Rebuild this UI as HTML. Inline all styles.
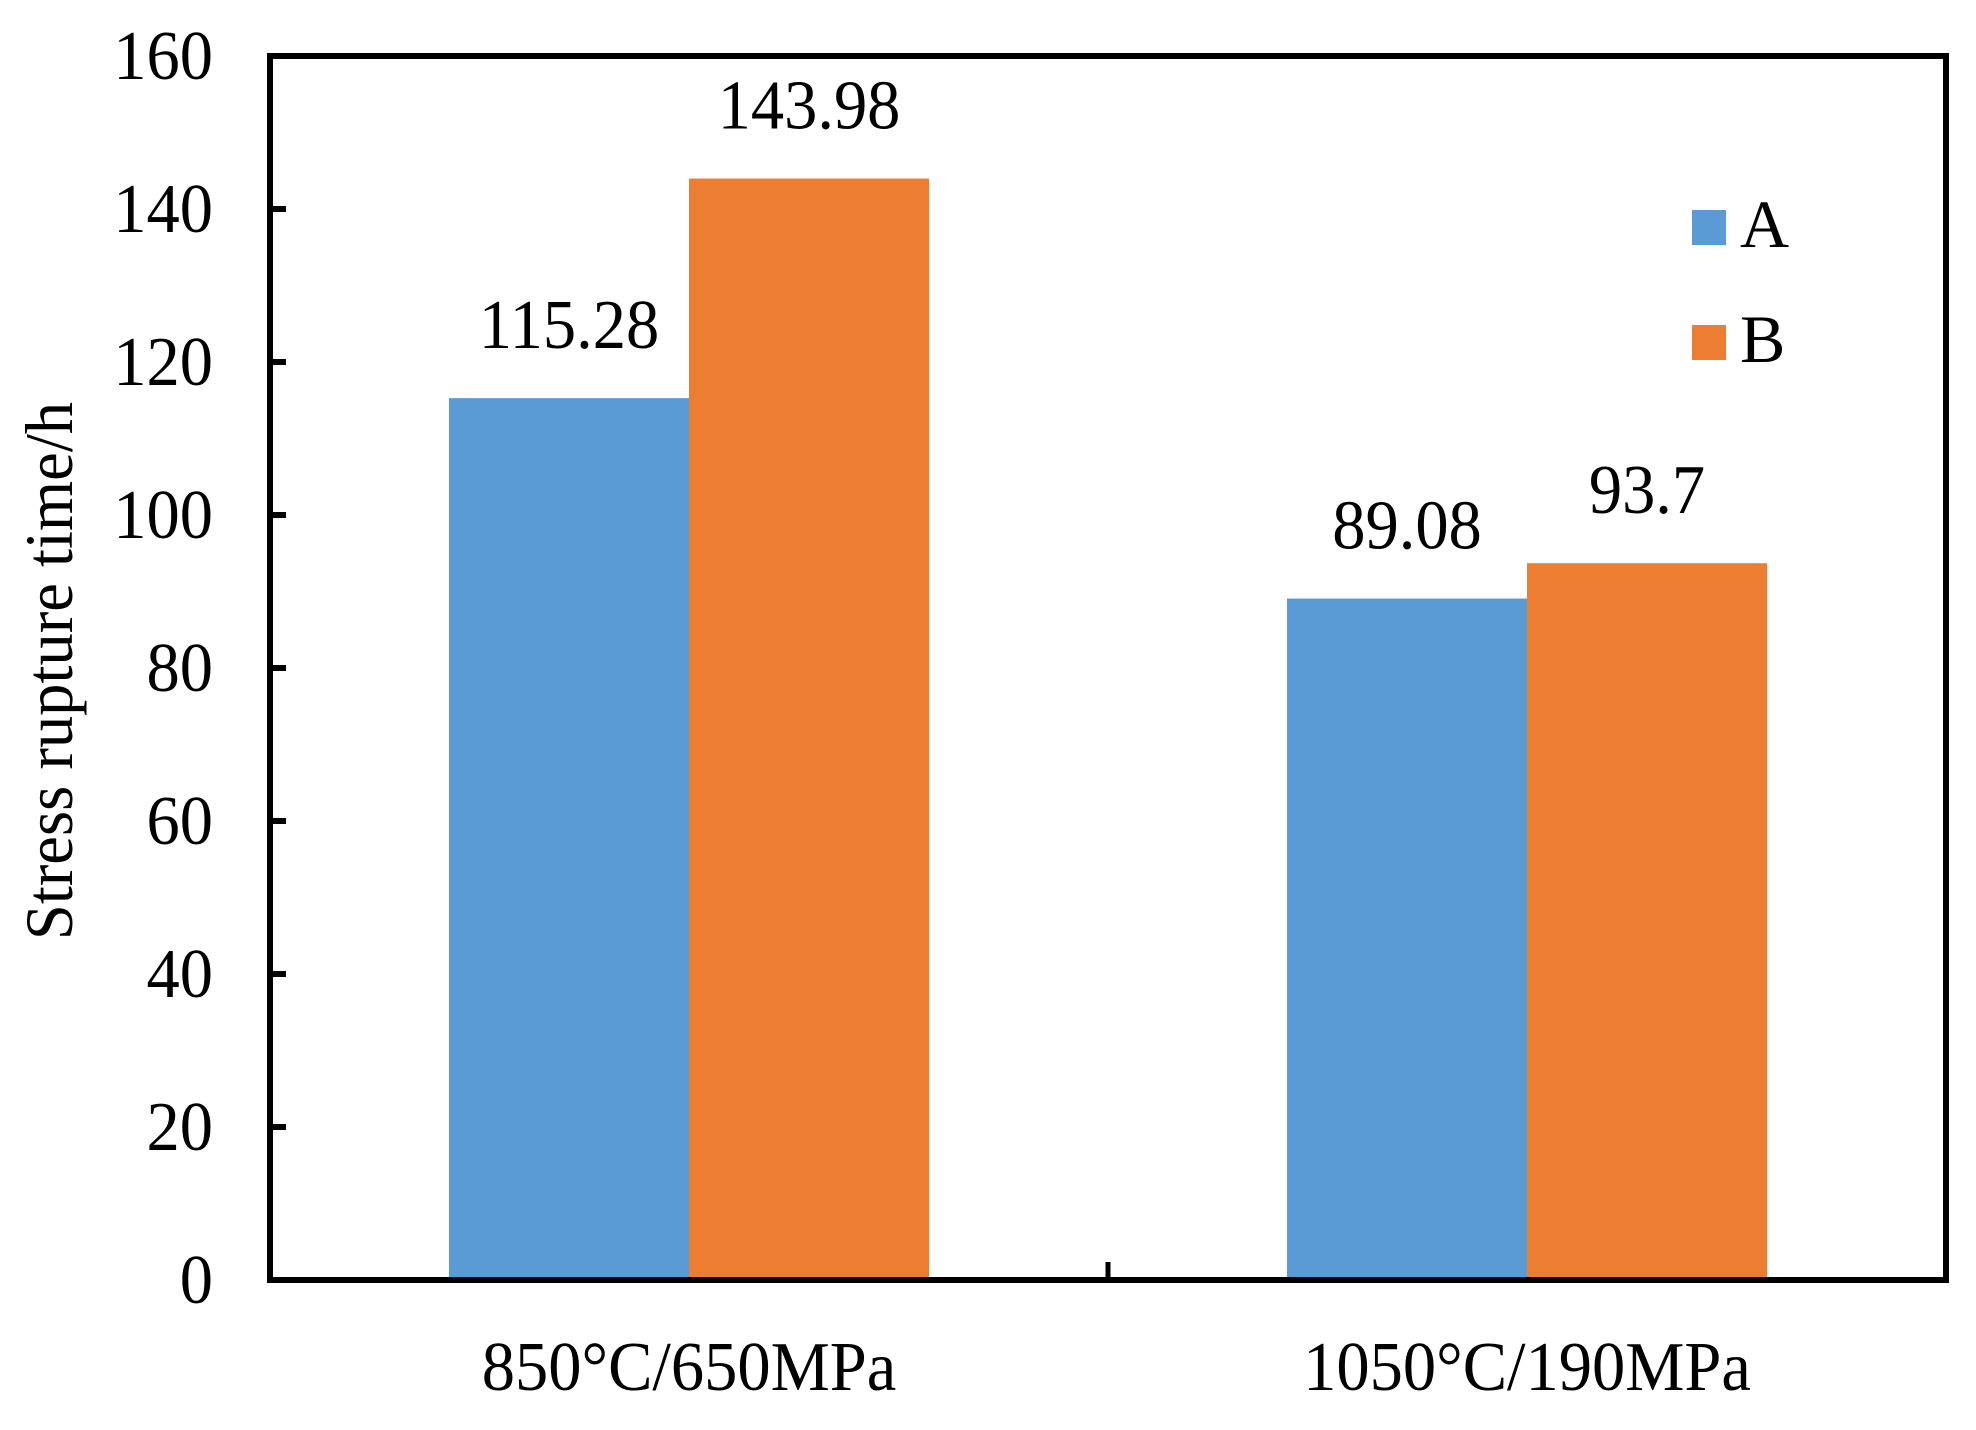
<!DOCTYPE html>
<html><head><meta charset="utf-8"><style>
body{margin:0;background:#fff}
svg text{font-family:"Liberation Serif",serif;fill:#000}
</style></head><body>
<svg id="chart" width="1976" height="1425" viewBox="0 0 1976 1425" xmlns="http://www.w3.org/2000/svg">
<rect width="1976" height="1425" fill="#fff"/>
<g id="bars"></g>
<rect x="270" y="56" width="1676" height="1224" fill="none" stroke="#000" stroke-width="6"/>
<g id="axes"></g>
<text transform="translate(72,671) rotate(-90) scale(0.95,1)" text-anchor="middle" font-size="68">Stress rupture time/h</text>
<g>
<rect x="1692" y="210" width="34" height="35" fill="#5b9bd5"/>
<text x="1740" y="247" font-size="68">A</text>
<rect x="1692" y="325" width="34" height="35" fill="#ed7d31"/>
<text x="1740" y="362" font-size="68">B</text>
</g>
</svg>
<script>
const categories = ["850°C/650MPa", "1050°C/190MPa"];
const seriesA = [115.28, 89.08];
const seriesB = [143.98, 93.7];
const valueLabelsA = ["115.28", "89.08"];
const valueLabelsB = ["143.98", "93.7"];
const yTicks = [0, 20, 40, 60, 80, 100, 120, 140, 160];

const NS = "http://www.w3.org/2000/svg";
const x0 = 270, x1 = 1946, y0 = 1280, y1 = 56, yMax = 160;
const y = v => y0 - (v / yMax) * (y0 - y1);
const groupW = (x1 - x0) / categories.length;
const barW = 240;
const gc = i => x0 + groupW * (i + 0.5);
function mk(tag, attrs, parent){const e=document.createElementNS(NS,tag);for(const k in attrs)e.setAttribute(k,attrs[k]);parent.appendChild(e);return e;}
const bars = document.getElementById('bars');
const axes = document.getElementById('axes');
const FS = 70, SX = 0.95;
function txt(parent, tx, ty, anchor, s){
  const t = mk('text',{transform:`translate(${tx},${ty}) scale(${SX},1)`,'text-anchor':anchor,'font-size':FS},parent);
  t.textContent = s; return t;
}
categories.forEach((c,i)=>{
  const cx = gc(i);
  [[seriesA,valueLabelsA,'#5b9bd5',-1,'a'],[seriesB,valueLabelsB,'#ed7d31',0,'b']].forEach(([s,l,col,off,nm])=>{
    const bx = cx + off*barW;
    const r = mk('rect',{x:bx,y:y(s[i]),width:barW,height:y0-y(s[i]),fill:col},bars);
    
    
    const t = txt(bars, bx+barW/2, y(s[i])-50, 'middle', l[i]);
    
    
  });
  const ct = txt(axes, cx, 1390, 'middle', c);
  
  
});
const mt = mk('line',{x1:x0+groupW,x2:x0+groupW,y1:y0,y2:y0-18,stroke:'#000','stroke-width':5},axes);


yTicks.forEach(v=>{
  const ln = mk('line',{x1:x0,x2:x0+16,y1:y(v),y2:y(v),stroke:'#000','stroke-width':6},axes);
  
  
  const t = txt(axes, 213, y(v)+23, 'end', String(v));
  
  
});
</script>
</body></html>
